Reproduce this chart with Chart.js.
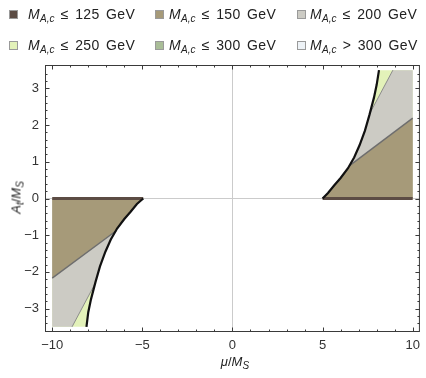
<!DOCTYPE html>
<html>
<head>
<meta charset="utf-8">
<script src="https://cdn.jsdelivr.net/npm/chart.js@4.4.1/dist/chart.umd.min.js"></script>
<style>
  body { margin: 0; background: #fff; }
  #wrap { position: relative; width: 426px; height: 378px; font-family: "Liberation Sans", Arial, sans-serif; color: #222; }
  #chart { position: absolute; left: 0; top: 0; }
  .leg { position: absolute; font-size: 14px; white-space: nowrap; line-height: 16px; word-spacing: 2px; letter-spacing: 0.4px; }
  .sw { position: absolute; width: 9px; height: 9px; border: 1px solid #9a9a9a; box-sizing: border-box; }
  .lbl { position: absolute; font-size: 13px; white-space: nowrap; }
  sub { font-size: 10px; vertical-align: -3px; font-style: italic; line-height: 0; letter-spacing: 0; }
</style>
</head>
<body>
<div id="wrap">
  <canvas id="chart" width="426" height="378"></canvas>
  <div id="legend"></div>
  <div class="lbl" id="xTitle" style="left:0;width:470px;top:354px;text-align:center;"><i>μ</i>/<i>M</i><sub>S</sub></div>
  <div class="lbl" id="yTitle" style="left:-34px;top:190px;width:100px;text-align:center;transform:rotate(-90deg);"><i>A</i><sub>t</sub>/<i>M</i><sub>S</sub></div>
</div>
<script>
// legend entries
const levelLabels = ['≤ 125 GeV', '≤ 150 GeV', '≤ 200 GeV', '≤ 250 GeV', '≤ 300 GeV', '> 300 GeV'];
const levelColors = ['#5c4c44', '#a69a79', '#cccbc4', '#e3f2b9', '#a9bd97', '#eef3f7'];

// axis ticks
const xTicks = [-10, -5, 0, 5, 10];
const yTicks = [-3, -2, -1, 0, 1, 2, 3];

// black boundary curve, right branch (mu > 0) and left branch (mu < 0)
const curveRightMu = [5.0, 5.3, 5.65, 6.0, 6.4, 6.75, 7.05, 7.35, 7.6, 7.85, 8.0, 8.13];
const curveRightAt = [0.0, 0.15, 0.36, 0.56, 0.82, 1.12, 1.45, 1.85, 2.28, 2.75, 3.1, 3.5];
const curveLeftMu = [-4.95, -5.3, -5.65, -6.0, -6.4, -6.75, -7.05, -7.35, -7.6, -7.85, -8.0, -8.1];
const curveLeftAt = [0.0, -0.15, -0.36, -0.56, -0.82, -1.12, -1.45, -1.85, -2.28, -2.75, -3.1, -3.5];

// 150 GeV contour (brown / grey)
const cut150RightMu = [6.48, 10];
const cut150RightAt = [0.89, 2.19];
const cut150LeftMu = [-6.45, -10];
const cut150LeftAt = [-0.88, -2.17];

// 200 GeV contour (grey / green)
const cut200RightMu = [7.62, 8.9];
const cut200RightAt = [2.32, 3.5];
const cut200LeftMu = [-7.62, -8.9];
const cut200LeftAt = [-2.32, -3.5];

// 125 GeV sliver along A_t = 0
const line125RightMu = [5.0, 10];
const line125LeftMu = [-4.95, -10];
const line125At = [0, 0];

// plotted range
const muEdge = 10;
const atEdge = 3.5;

function pts(mu, at) {
  return mu.map((m, i) => ({ x: m, y: at[i] }));
}

// curve points closer to the origin than the cut, then the cut line
function region(cMu, cAt, cutMu, cutAt, sign) {
  const p = pts(cMu, cAt).filter(q => Math.abs(q.x) < Math.abs(cutMu[0]));
  p.push(...pts(cutMu, cutAt));
  if (Math.abs(cutAt[1]) >= atEdge) p.push({ x: sign * muEdge, y: sign * atEdge });
  p.push({ x: sign * muEdge, y: 0 });
  return p;
}

function fullRegion(cMu, cAt, sign) {
  const p = pts(cMu, cAt);
  p.push({ x: sign * muEdge, y: sign * atEdge });
  p.push({ x: sign * muEdge, y: 0 });
  return p;
}

function fillSet(data, color, order) {
  return { data, order, showLine: true, fill: 'shape', backgroundColor: color,
    borderColor: 'rgba(0,0,0,0)', borderWidth: 0, pointRadius: 0 };
}

function lineSet(data, color, width, order) {
  return { data, order, showLine: true, fill: false, borderColor: color,
    borderWidth: width, pointRadius: 0 };
}

// legend
const legend = document.getElementById('legend');
const legLeft = [28, 169, 310];
const swLeft = [9, 155, 297];
const legTop = [6, 37];
levelLabels.forEach((t, i) => {
  const c = i % 3, tp = legTop[Math.floor(i / 3)];
  legend.insertAdjacentHTML('beforeend',
    `<div class="sw" style="left:${swLeft[c]}px;top:${tp + 4}px;background:${levelColors[i]}"></div>` +
    `<div class="leg" style="left:${legLeft[c]}px;top:${tp}px"><i>M</i><sub>A,c</sub> ${t}</div>`);
});

const xMinor = [];
for (let v = -10; v <= 10; v++) xMinor.push(v);
const yMinor = [];
for (let k = -17; k <= 17; k++) yMinor.push(Math.round(k * 2) / 10);

const framePlugin = {
  id: 'frame',
  afterDatasetsDraw(chart) {
    const { ctx, chartArea: a, scales: { x, y } } = chart;
    ctx.save();
    ctx.strokeStyle = '#3a3a3a';
    ctx.lineWidth = 1;
    ctx.strokeRect(a.left + 0.5, a.top + 0.5, a.right - a.left - 1, a.bottom - a.top - 1);
    ctx.beginPath();
    xMinor.forEach(v => {
      const p = Math.round(x.getPixelForValue(v)) + 0.5;
      const l = xTicks.includes(v) ? 4.5 : 2.5;
      ctx.moveTo(p, a.bottom); ctx.lineTo(p, a.bottom - l);
      ctx.moveTo(p, a.top); ctx.lineTo(p, a.top + l);
    });
    yMinor.forEach(v => {
      const p = Math.round(y.getPixelForValue(v)) + 0.5;
      const l = yTicks.includes(v) ? 4.5 : 2.5;
      ctx.moveTo(a.left, p); ctx.lineTo(a.left + l, p);
      ctx.moveTo(a.right, p); ctx.lineTo(a.right - l, p);
    });
    ctx.stroke();
    ctx.restore();
  }
};

const tickFmt = v => (v < 0 ? '\u2212' + Math.abs(v) : String(v));
const axisGrid = { color: c => (c.tick && c.tick.value === 0 ? '#cbcbcb' : 'rgba(0,0,0,0)'), drawTicks: false, lineWidth: 1 };

new Chart(document.getElementById('chart'), {
  type: 'scatter',
  data: {
    datasets: [
      lineSet(pts(curveRightMu, curveRightAt), '#111', 2.2, 0),
      lineSet(pts(curveLeftMu, curveLeftAt), '#111', 2.2, 0),
      lineSet(pts(line125RightMu, line125At), levelColors[0], 3, 1),
      lineSet(pts(line125LeftMu, line125At), levelColors[0], 3, 1),
      lineSet(pts(cut150RightMu, cut150RightAt), '#6e6e6e', 1.4, 2),
      lineSet(pts(cut150LeftMu, cut150LeftAt), '#6e6e6e', 1.4, 2),
      lineSet(pts(cut200RightMu, cut200RightAt), '#8c8c8c', 1, 2),
      lineSet(pts(cut200LeftMu, cut200LeftAt), '#8c8c8c', 1, 2),
      fillSet(region(curveRightMu, curveRightAt, cut150RightMu, cut150RightAt, 1), levelColors[1], 3),
      fillSet(region(curveLeftMu, curveLeftAt, cut150LeftMu, cut150LeftAt, -1), levelColors[1], 3),
      fillSet(region(curveRightMu, curveRightAt, cut200RightMu, cut200RightAt, 1), levelColors[2], 4),
      fillSet(region(curveLeftMu, curveLeftAt, cut200LeftMu, cut200LeftAt, -1), levelColors[2], 4),
      fillSet(fullRegion(curveRightMu, curveRightAt, 1), levelColors[3], 5),
      fillSet(fullRegion(curveLeftMu, curveLeftAt, -1), levelColors[3], 5)
    ]
  },
  options: {
    responsive: false,
    animation: false,
    layout: { padding: { top: 65, right: 3, left: 0, bottom: 0 } },
    plugins: { legend: { display: false }, tooltip: { enabled: false } },
    scales: {
      x: {
        type: 'linear', min: -10.4, max: 10.4,
        afterBuildTicks: s => { s.ticks = xTicks.map(v => ({ value: v })); },
        afterFit: s => { s.height = 46; },
        ticks: { callback: tickFmt, color: '#333', padding: 6, maxRotation: 0,
          font: { family: 'Liberation Sans', size: 13 } },
        grid: axisGrid,
        border: { display: false }
      },
      y: {
        type: 'linear', min: -3.64, max: 3.64,
        afterBuildTicks: s => { s.ticks = yTicks.map(v => ({ value: v })); },
        afterFit: s => { s.width = 45; },
        ticks: { callback: tickFmt, color: '#333', padding: 6,
          font: { family: 'Liberation Sans', size: 13 } },
        grid: axisGrid,
        border: { display: false }
      }
    }
  },
  plugins: [framePlugin]
});
</script>
</body>
</html>
